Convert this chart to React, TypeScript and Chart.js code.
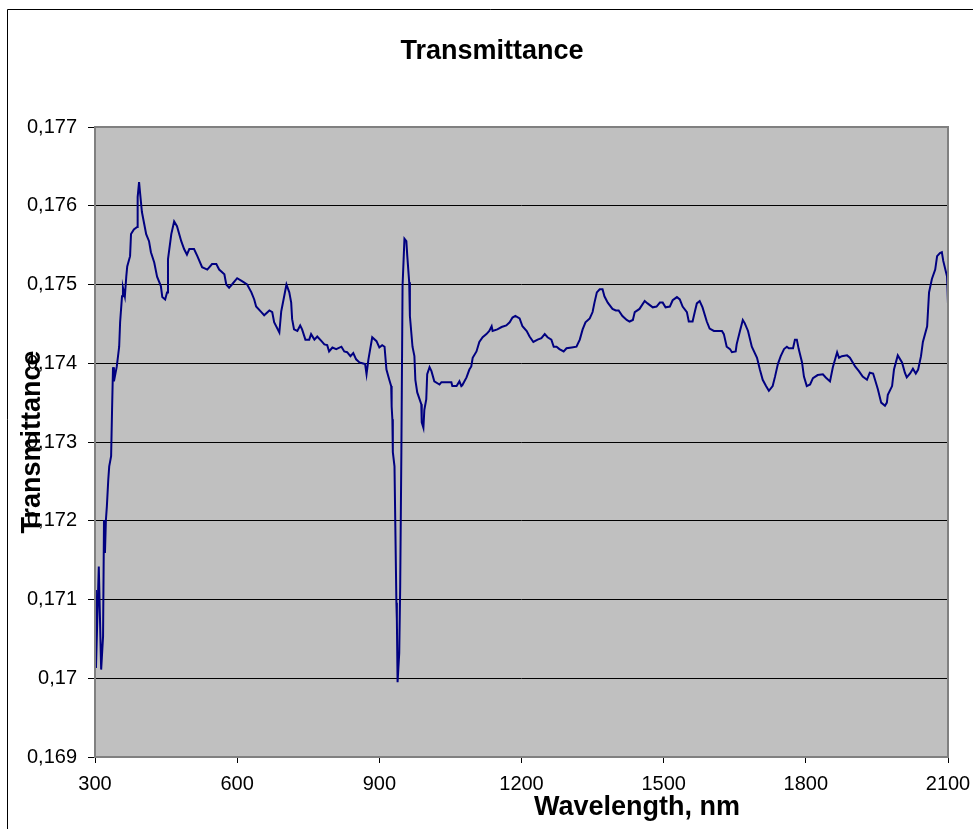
import { useEffect, useRef } from "react";
import { Chart, registerables } from "chart.js";

Chart.register(...registerables);

const chartTitle = "Transmittance";
const xAxisTitle = "Wavelength, nm";
const yAxisTitle = "Transmittance";

const xMin = 300;
const xMax = 2100;
const xStep = 300;
const yMin = 0.169;
const yMax = 0.177;
const yStep = 0.001;

const wavelength = [
  300, 302, 308, 313, 317, 319, 321, 323, 325, 328, 330, 334, 336, 338, 340, 346, 351, 353, 357, 359,
  363, 366, 368, 374, 376, 382, 389, 390, 393, 395, 399, 408, 414, 418, 425, 431, 439, 442, 448, 452,
  454, 461, 467, 473, 482, 488, 494, 499, 509, 516, 526, 537, 547, 556, 562, 573, 577, 583, 589, 600,
  611, 621, 630, 636, 640, 651, 657, 668, 674, 678, 689, 693, 695, 704, 710, 714, 716, 720, 727, 733,
  737, 744, 752, 756, 763, 769, 778, 784, 790, 794, 801, 809, 820, 826, 832, 839, 845, 851, 858, 864,
  870, 873, 877, 885, 894, 900, 906, 911, 915, 921, 925, 926, 927.5, 928.5, 932, 936, 937, 938.5, 942, 944,
  946.5, 949, 953, 957, 959, 963, 964.5, 970, 974, 976, 980, 988.5, 989.5, 993, 995, 999, 1001, 1006, 1010, 1016,
  1027, 1031, 1042, 1052, 1054, 1063, 1069, 1073, 1075, 1084, 1090, 1094, 1097, 1105, 1111, 1118, 1126, 1132, 1137, 1139,
  1149, 1158, 1168, 1175, 1181, 1187, 1196, 1202, 1211, 1217, 1225, 1234, 1242, 1249, 1255, 1263, 1268, 1274, 1280, 1289,
  1295, 1306, 1316, 1323, 1329, 1335, 1344, 1350, 1354, 1359, 1365, 1371, 1375, 1382, 1392, 1399, 1405, 1413, 1422, 1428,
  1435, 1439, 1449, 1460, 1466, 1477, 1485, 1492, 1498, 1504, 1513, 1519, 1528, 1534, 1540, 1549, 1553, 1561, 1566, 1570,
  1576, 1582, 1591, 1597, 1606, 1623, 1627, 1633, 1640, 1644, 1652, 1654, 1661, 1667, 1671, 1678, 1686, 1697, 1703, 1709,
  1716, 1722, 1730, 1735, 1741, 1747, 1754, 1760, 1764, 1773, 1777, 1781, 1785, 1792, 1796, 1802, 1809, 1815, 1825, 1836,
  1842, 1851, 1857, 1866, 1870, 1876, 1887, 1893, 1904, 1912, 1920, 1929, 1935, 1942, 1946, 1952, 1959, 1967, 1971, 1973,
  1982, 1986, 1994, 2003, 2009, 2013, 2020, 2026, 2032, 2037, 2043, 2047, 2056, 2060, 2066, 2073, 2077, 2083, 2087, 2090,
  2098, 2099, 2100,
];

const transmittance = [
  0.17112, 0.17013, 0.17142, 0.17011, 0.17053, 0.17201, 0.17159, 0.17201, 0.17218, 0.17252,
  0.17269, 0.17282, 0.17341, 0.17395, 0.17377, 0.17396, 0.17421, 0.17452, 0.17485, 0.17496,
  0.17485, 0.1751, 0.17523, 0.17536, 0.17564, 0.1757, 0.17573, 0.17611, 0.1763, 0.17617,
  0.17592, 0.17564, 0.17555, 0.17541, 0.17528, 0.1751, 0.17498, 0.17484, 0.17481, 0.1749,
  0.17532, 0.17564, 0.1758, 0.17574, 0.17555, 0.17545, 0.17538, 0.17545, 0.17545, 0.17536,
  0.17522, 0.17519, 0.17526, 0.17526, 0.17519, 0.17513, 0.175, 0.17496, 0.175, 0.17508,
  0.17504, 0.175, 0.1749, 0.17481, 0.17472, 0.17465, 0.17461, 0.17467, 0.17465, 0.17452,
  0.17439, 0.17466, 0.17472, 0.175, 0.1749, 0.17477, 0.17456, 0.17443, 0.17441, 0.17448,
  0.17443, 0.1743, 0.1743, 0.17437, 0.1743, 0.17434, 0.17428, 0.17424, 0.17423, 0.17415,
  0.1742, 0.17418, 0.17421, 0.17415, 0.17414, 0.17409, 0.17413, 0.17405, 0.17401, 0.174,
  0.17399, 0.17386, 0.17405, 0.17433, 0.17428, 0.1742, 0.17423, 0.17421, 0.17392, 0.17379,
  0.17371, 0.17345, 0.17329, 0.17287, 0.17269, 0.17096, 0.17074, 0.16995, 0.17032, 0.17116,
  0.17287, 0.17498, 0.17558, 0.17555, 0.17536, 0.17503, 0.1746, 0.17421, 0.17409, 0.17379,
  0.17363, 0.17348, 0.17325, 0.17318, 0.17341, 0.17354, 0.17386, 0.17395, 0.1739, 0.17377,
  0.17373, 0.17376, 0.17376, 0.17376, 0.17371, 0.17371, 0.17377, 0.17371, 0.17372, 0.17382,
  0.17392, 0.17396, 0.17407, 0.17415, 0.17427, 0.17433, 0.17437, 0.17441, 0.17447, 0.17441,
  0.17443, 0.17446, 0.17448, 0.17452, 0.17458, 0.1746, 0.17457, 0.17447, 0.17441, 0.17434,
  0.17427, 0.1743, 0.17432, 0.17437, 0.17433, 0.1743, 0.17421, 0.17421, 0.17418, 0.17415,
  0.17419, 0.1742, 0.17421, 0.1743, 0.17443, 0.17452, 0.17457, 0.17465, 0.17477, 0.1749,
  0.17494, 0.17494, 0.17485, 0.17477, 0.17469, 0.17467, 0.17467, 0.1746, 0.17455, 0.17453,
  0.17455, 0.17465, 0.17469, 0.17479, 0.17476, 0.17471, 0.17472, 0.17477, 0.17477, 0.17471,
  0.17472, 0.1748, 0.17484, 0.17481, 0.17472, 0.17465, 0.17453, 0.17453, 0.17466, 0.17476,
  0.17479, 0.17471, 0.17453, 0.17444, 0.17441, 0.17441, 0.17437, 0.17421, 0.17418, 0.17414,
  0.17415, 0.17424, 0.17441, 0.17455, 0.17451, 0.17441, 0.17421, 0.17407, 0.17392, 0.17379,
  0.17371, 0.17365, 0.17371, 0.17383, 0.17399, 0.17409, 0.17418, 0.17421, 0.17419, 0.17419,
  0.1743, 0.1743, 0.17418, 0.17401, 0.17383, 0.17371, 0.17373, 0.17381, 0.17385, 0.17386,
  0.17382, 0.17377, 0.17395, 0.17414, 0.17407, 0.17409, 0.1741, 0.17407, 0.17396, 0.1739,
  0.17383, 0.17379, 0.17388, 0.17387, 0.17379, 0.17367, 0.1735, 0.17346, 0.1735, 0.1736,
  0.17371, 0.17392, 0.1741, 0.17401, 0.17388, 0.17382, 0.17387, 0.17393, 0.17387, 0.17392,
  0.17409, 0.17427, 0.17447, 0.1749, 0.17507, 0.17519, 0.17536, 0.1754, 0.17541, 0.1753,
  0.1751, 0.17494, 0.17475,
];

const FONT = '"Liberation Sans", Arial, sans-serif';

const decoratePlugin = {
  id: "decorate",
  beforeDraw(chart: any) {
    const { ctx, chartArea: a, width, height } = chart;
    ctx.save();
    ctx.fillStyle = "#ffffff";
    ctx.fillRect(0, 0, width, height);
    ctx.strokeStyle = "#000000";
    ctx.lineWidth = 1;
    ctx.beginPath();
    ctx.moveTo(7.5, height);
    ctx.lineTo(7.5, 9.5);
    ctx.lineTo(width, 9.5);
    ctx.stroke();
    ctx.fillStyle = "#c0c0c0";
    ctx.fillRect(a.left, a.top, a.right - a.left, a.bottom - a.top);
    ctx.restore();
  },
  afterDatasetsDraw(chart: any) {
    const { ctx, chartArea: a } = chart;
    ctx.save();
    ctx.strokeStyle = "#808080";
    ctx.lineWidth = 2;
    ctx.strokeRect(a.left, a.top, a.right - a.left, a.bottom - a.top);
    ctx.restore();
  },
  afterDraw(chart: any) {
    const { ctx } = chart;
    ctx.save();
    ctx.fillStyle = "#000000";
    ctx.font = `bold 27px ${FONT}`;
    ctx.textAlign = "center";
    ctx.textBaseline = "middle";
    ctx.fillText(chartTitle, 492, 52);
    ctx.fillText(xAxisTitle, 637, 808);
    ctx.restore();
  },
};

function formatY(v: number) {
  const r = Math.round(v * 1000) / 1000;
  return String(r).replace(".", ",");
}

export default function App() {
  const ref = useRef<HTMLCanvasElement | null>(null);

  useEffect(() => {
    if (!ref.current) return;
    const points = wavelength.map((w, i) => ({ x: w, y: transmittance[i] }));
    const chart = new Chart(ref.current, {
      type: "line",
      data: {
        datasets: [
          {
            label: chartTitle,
            data: points,
            borderColor: "#000080",
            borderWidth: 2,
            pointRadius: 0,
            tension: 0,
            fill: false,
          },
        ],
      },
      plugins: [decoratePlugin],
      options: {
        animation: false,
        responsive: false,
        events: [],
        layout: { padding: { left: 8, top: 127, right: 25, bottom: 0 } },
        plugins: {
          legend: { display: false },
          title: { display: false },
          tooltip: { enabled: false },
        },
        scales: {
          x: {
            type: "linear",
            min: xMin,
            max: xMax,
            afterFit: (s: any) => {
              s.height = 72;
              s.paddingLeft = 0;
              s.paddingRight = 0;
            },
            border: { display: false },
            grid: {
              drawOnChartArea: false,
              drawTicks: true,
              tickLength: 6,
              tickColor: "#000000",
              tickWidth: 1,
            },
            ticks: {
              stepSize: xStep,
              padding: 9,
              color: "#000000",
              font: { family: FONT, size: 20 },
              maxRotation: 0,
              callback: (v: any) => String(v),
            },
            title: { display: false },
          },
          y: {
            type: "linear",
            min: yMin,
            max: yMax,
            afterFit: (s: any) => {
              s.width = 87;
              s.paddingTop = 0;
              s.paddingBottom = 0;
            },
            border: { display: false },
            grid: {
              drawOnChartArea: true,
              drawTicks: true,
              tickLength: 7,
              tickColor: "#000000",
              lineWidth: 1,
              color: (c: any) => {
                const v = c.tick ? c.tick.value : 0;
                if (Math.abs(v - yMin) < 1e-6 || Math.abs(v - yMax) < 1e-6) return "rgba(0,0,0,0)";
                return "#000000";
              },
            },
            ticks: {
              stepSize: yStep,
              padding: 11,
              color: "#000000",
              font: { family: FONT, size: 20 },
              callback: (v: any) => formatY(Number(v)),
            },
            title: {
              display: true,
              text: yAxisTitle,
              color: "#000000",
              font: { family: FONT, size: 27, weight: "bold" },
              padding: { top: 8, bottom: 0 },
            },
          },
        },
      },
    });
    return () => chart.destroy();
  }, []);

  return (
    <div style={{ position: "fixed", left: 0, top: 0, width: 973, height: 829, background: "#ffffff" }}>
      <canvas ref={ref} width={973} height={829} style={{ display: "block", width: 973, height: 829 }} />
    </div>
  );
}
